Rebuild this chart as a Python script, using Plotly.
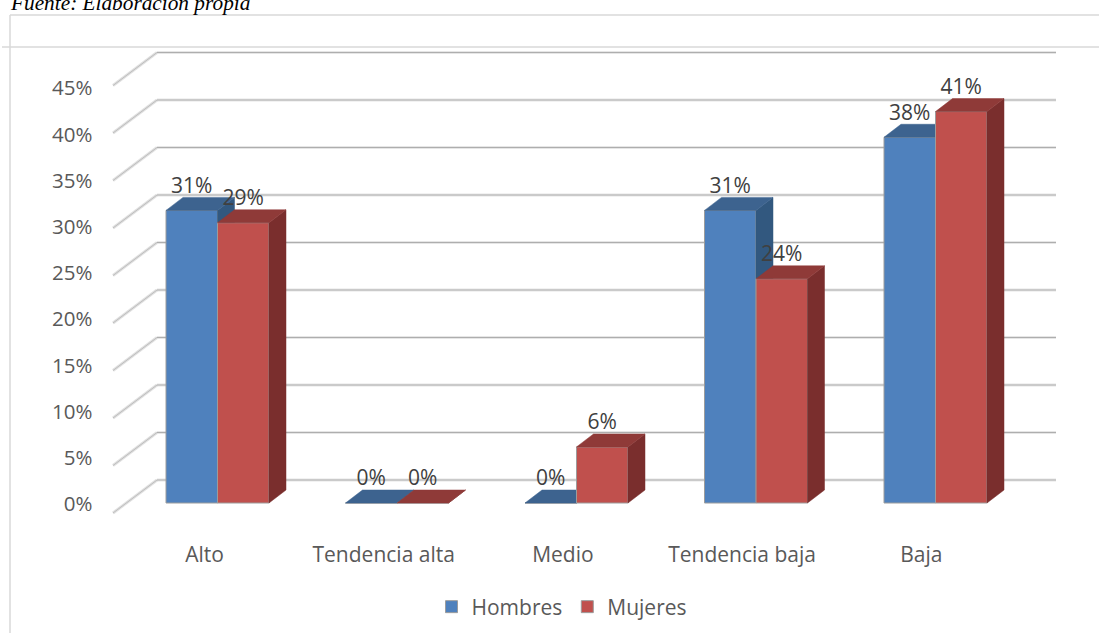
import plotly.graph_objects as go

categories = ["Alto", "Tendencia alta", "Medio", "Tendencia baja", "Baja"]
hombres = [30.8, 0, 0, 30.8, 38.5]
mujeres = [29.5, 0, 5.9, 23.6, 41.2]
hombres_labels = ["31%", "0%", "0%", "31%", "38%"]
mujeres_labels = ["29%", "0%", "6%", "24%", "41%"]
ticks = [0, 5, 10, 15, 20, 25, 30, 35, 40, 45]
tick_labels = [f"{t}%" for t in ticks]

W, H = 1099, 633
CAT0, CATSTEP = 217.5, 179.5      # px centre of first group, px per group
BASE, PX = 503, 9.5               # px of 0 %, px per 1 %
UX, UY = 1 / CATSTEP, 1 / PX
BARW = 51.5 * UX
DX, DY = 17 * UX, 13 * UY         # bar depth
range_x = [(0 - CAT0) * UX, (W - CAT0) * UX]
range_y = [(BASE - H) * UY, BASE * UY]

BLUE, BLUE_TOP, BLUE_SIDE = "#4f81bd", "#3d638f", "#32587f"
RED, RED_TOP, RED_SIDE = "#c0504d", "#8f3a38", "#7a2e2d"
TXT, LBL = "#595959", "#404040"
FONT = "Open Sans"


def polys(values, left):
    """top and side faces of the bars, derived from the values"""
    tx, ty, sx, sy = [], [], [], []
    for i, v in enumerate(values):
        a = i + left
        b = a + BARW
        tx += [a, b, b + DX, a + DX, a, None]
        ty += [v, v, v + DY, v + DY, v, None]
        sx += [b, b + DX, b + DX, b, b, None]
        sy += [0, DY, v + DY, v, 0, None]
    return tx, ty, sx, sy


fig = go.Figure()

# --- walls: back grid lines and floor-to-wall diagonals
BACK = 23 * UY
FRONT = -10 * UY
gx0, gx1 = (157 - CAT0) * UX, (1056 - CAT0) * UX
dx0 = (113 - CAT0) * UX
grid_x, grid_y, diag_x, diag_y = [], [], [], []
for t in ticks:
    grid_x += [gx0, gx1, None]
    grid_y += [t + BACK, t + BACK, None]
    diag_x += [dx0, gx0, None]
    diag_y += [t + FRONT, t + BACK, None]
for xs, ys, c, w in [(grid_x, grid_y, "#e6e6e6", 3), (diag_x, diag_y, "#e0e0e0", 3),
                     (grid_x, grid_y, "#aeaeae", 1), (diag_x, diag_y, "#b4b4b4", 0.8)]:
    fig.add_trace(go.Scatter(x=xs, y=ys, mode="lines", line=dict(color=c, width=w),
                             hoverinfo="skip", showlegend=False, xaxis="x", yaxis="y"))


def add_series(name, values, labels, color, top, side, left, ax, ay):
    fig.add_trace(go.Bar(x=list(range(len(values))), y=values, width=BARW, offset=left,
                         name=name, marker=dict(color=color, line=dict(color="#9c9c9c", width=1)),
                         xaxis=ax, yaxis=ay))
    tx, ty, sx, sy = polys(values, left)
    fig.add_trace(go.Scatter(x=sx, y=sy, mode="lines", fill="toself", fillcolor=side,
                             line=dict(color=side, width=0.5), hoverinfo="skip",
                             showlegend=False, xaxis=ax, yaxis=ay))
    fig.add_trace(go.Scatter(x=tx, y=ty, mode="lines", fill="toself", fillcolor=top,
                             line=dict(color=top, width=0.5), hoverinfo="skip",
                             showlegend=False, xaxis=ax, yaxis=ay))
    return [i + left + BARW / 2 for i in range(len(values))], [v + 23 * UY for v in values], labels


b = add_series("Hombres", hombres, hombres_labels, BLUE, BLUE_TOP, BLUE_SIDE, -BARW, "x2", "y2")
r = add_series("Mujeres", mujeres, mujeres_labels, RED, RED_TOP, RED_SIDE, 0, "x3", "y3")

# data labels on top of everything
fig.add_trace(go.Scatter(x=b[0] + r[0], y=b[1] + r[1], text=b[2] + r[2], mode="text",
                         textposition="middle center",
                         textfont=dict(family=FONT, size=21, color=LBL),
                         hoverinfo="skip", showlegend=False, xaxis="x3", yaxis="y3"))

# invisible carrier of the label axes
fig.add_trace(go.Scatter(x=[0, len(categories) - 1], y=[ticks[0], ticks[-1]], mode="markers",
                         marker=dict(opacity=0), hoverinfo="skip", showlegend=False,
                         xaxis="x4", yaxis="y4"))

hidden = dict(visible=False, range=range_x, fixedrange=True)
hiddeny = dict(visible=False, range=range_y, fixedrange=True)
LSTEP = 46.2                       # px per 5 % on the label axis
L0 = 504
LX0 = 204.5
LXSTEP = 179.2

fig.update_layout(
    width=W, height=H, margin=dict(l=0, r=0, t=0, b=0),
    paper_bgcolor="white", plot_bgcolor="rgba(0,0,0,0)",
    font=dict(family=FONT, color=TXT, size=20),
    xaxis=dict(domain=[0, 1], **hidden),
    yaxis=dict(domain=[0, 1], **hiddeny),
    xaxis2=dict(overlaying="x", **hidden),
    yaxis2=dict(overlaying="y", **hiddeny),
    xaxis3=dict(overlaying="x", **hidden),
    yaxis3=dict(overlaying="y", **hiddeny),
    xaxis4=dict(overlaying="x", anchor="free", position=(H - 540) / H,
                range=[(0 - LX0) / LXSTEP, (W - LX0) / LXSTEP],
                tickmode="array", tickvals=list(range(len(categories))), ticktext=categories,
                showgrid=False, zeroline=False, showline=False, ticks="",
                tickfont=dict(family=FONT, size=21, color=TXT), fixedrange=True),
    yaxis4=dict(overlaying="y", anchor="free", position=92.5 / W,
                range=[(L0 - H) / LSTEP * 5, L0 / LSTEP * 5],
                tickmode="array", tickvals=ticks, ticktext=tick_labels,
                showgrid=False, zeroline=False, showline=False, ticks="",
                tickfont=dict(family=FONT, size=20.5, color=TXT), fixedrange=True),
    legend=dict(orientation="h", x=562 / W, xanchor="center", y=(H - 607) / H, yanchor="middle",
                font=dict(family=FONT, size=21, color=TXT), bgcolor="rgba(0,0,0,0)"),
    shapes=[
        dict(type="line", xref="paper", yref="paper", x0=10 / W, x1=10 / W, y0=0, y1=(H - 15) / H,
             line=dict(color="#d9d9d9", width=1.5)),
        dict(type="line", xref="paper", yref="paper", x0=10 / W, x1=1, y0=(H - 15) / H, y1=(H - 15) / H,
             line=dict(color="#d9d9d9", width=1.5)),
        dict(type="line", xref="paper", yref="paper", x0=2 / W, x1=1, y0=(H - 47) / H, y1=(H - 47) / H,
             line=dict(color="#d9d9d9", width=1.5)),
    ],
    annotations=[
        dict(text="<i>Fuente: Elaboración propia</i>", xref="paper", yref="paper",
             x=8 / W, y=(H - 2.5) / H, xanchor="left", yanchor="middle", showarrow=False,
             font=dict(family="Liberation Serif", size=21.3, color="#000000")),
    ],
)

fig.write_html("out.html", config=dict(displayModeBar=False),
               post_script="document.body.style.margin='0';document.body.style.overflow='hidden';")
